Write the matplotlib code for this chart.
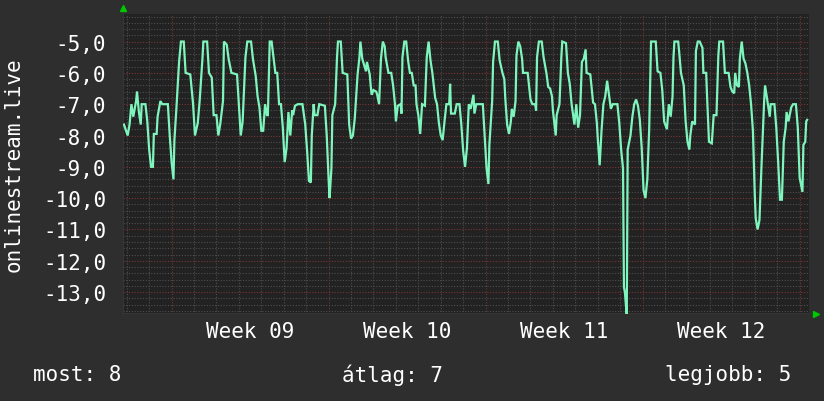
import matplotlib
matplotlib.use("Agg")
import matplotlib.pyplot as plt
import numpy as np

# hours since the left edge of the graph, and the measured value
hours = [1, 5, 7, 9, 11, 14, 15, 17, 19, 20, 24, 26, 28, 30, 32, 33, 36, 37, 40, 42,
         48, 50, 52, 54, 55, 57, 60, 62, 65, 67, 72, 75, 77, 80, 82, 85, 86, 90, 92, 95,
         97, 100, 102, 104, 107, 108, 111, 113, 116, 122, 124, 126, 128, 131, 133, 137, 139, 142, 144, 146,
         148, 150, 152, 154, 155, 157, 159, 161, 163, 165, 167, 169, 171, 173, 175, 177, 179, 181, 182, 184,
         187, 192, 195, 197, 199, 201, 202, 204, 205, 208, 210, 216, 218, 220, 221, 223, 224, 227, 229, 230,
         233, 235, 240, 242, 244, 246, 248, 251, 253, 254, 256, 258, 260, 261, 264, 265, 266, 268, 271, 272,
         274, 276, 278, 280, 281, 284, 287, 289, 291, 292, 294, 297, 298, 299, 301, 303, 305, 307, 309, 311,
         313, 314, 316, 318, 320, 323, 325, 327, 329, 331, 334, 336, 338, 340, 342, 344, 346, 349, 350, 351,
         355, 357, 360, 362, 364, 366, 368, 370, 372, 375, 376, 378, 385, 387, 389, 391, 392, 395, 396, 398,
         401, 403, 406, 408, 409, 411, 413, 415, 416, 418, 420, 421, 423, 425, 427, 428, 433, 436, 438, 441,
         442, 443, 445, 448, 450, 453, 455, 457, 459, 460, 463, 464, 467, 469, 470, 474, 476, 478, 480, 483,
         485, 487, 489, 491, 493, 495, 496, 500, 503, 505, 507, 508, 510, 512, 514, 516, 518, 520, 522, 524,
         529, 531, 533, 535, 536, 537, 539, 540, 543, 545, 547, 549, 551, 553, 555, 557, 559, 561, 563, 565,
         570, 572, 575, 577, 579, 582, 584, 586, 588, 589, 590, 594, 595, 597, 600, 602, 604, 606, 607, 609,
         612, 613, 615, 617, 620, 621, 624, 625, 627, 630, 632, 635, 637, 638, 642, 644, 648, 650, 652, 654,
         655, 657, 659, 660, 662, 664, 666, 668, 670, 672, 674, 676, 677, 679, 681, 683, 685, 686, 687, 690,
         692, 693, 697, 699, 701, 703, 705, 707, 709, 710, 712, 715, 717, 720, 722, 724, 727, 728, 730, 731,
         732]
values = [-7.65, -8.0, -7.65, -7.0, -7.4, -6.9, -6.6, -7.25, -7.65, -7.0, -7.0, -7.55, -8.45, -9.0, -9.0, -7.95, -7.95, -7.4, -6.9, -7.0,
          -7.0, -8.0, -8.85, -9.4, -8.15, -7.2, -5.65, -5.0, -5.0, -6.0, -6.05, -7.0, -8.0, -7.6, -6.9, -5.55, -5.0, -5.0, -6.0, -6.15,
          -7.35, -7.35, -8.0, -7.65, -6.9, -5.0, -5.1, -5.55, -6.0, -6.05, -7.0, -8.0, -7.55, -5.5, -5.0, -5.0, -5.55, -6.1, -6.75, -7.1,
          -7.85, -7.85, -7.0, -7.35, -7.35, -5.0, -5.0, -5.5, -6.0, -6.0, -7.0, -7.0, -7.75, -8.85, -8.4, -7.25, -8.0, -7.2, -7.35, -7.05,
          -7.0, -7.0, -7.65, -8.5, -9.45, -9.5, -8.0, -7.0, -7.35, -7.35, -7.0, -7.05, -8.0, -9.4, -10.0, -9.05, -7.35, -7.0, -5.5, -5.0,
          -5.0, -6.0, -6.05, -7.65, -8.1, -8.0, -7.45, -6.05, -5.5, -5.0, -5.55, -5.75, -5.95, -5.65, -6.05, -6.4, -6.7, -6.55, -6.6, -6.7,
          -7.0, -5.55, -5.0, -5.15, -5.5, -6.0, -6.0, -6.4, -7.0, -7.55, -7.05, -7.0, -7.3, -5.5, -5.0, -5.0, -5.6, -6.0, -6.0, -6.4,
          -6.4, -7.0, -7.35, -7.95, -7.0, -7.05, -5.5, -5.0, -5.6, -6.0, -6.8, -7.0, -7.6, -8.0, -8.15, -7.55, -7.0, -7.0, -6.35, -7.3,
          -7.3, -7.0, -7.0, -7.65, -8.5, -9.0, -8.4, -7.0, -7.15, -6.7, -7.3, -7.0, -7.0, -8.05, -9.05, -9.55, -8.3, -6.9, -5.65, -5.0,
          -5.0, -5.6, -6.0, -6.2, -6.8, -7.65, -7.95, -7.55, -7.15, -7.4, -6.9, -5.45, -5.0, -5.15, -5.55, -6.0, -6.0, -6.85, -7.0, -7.0,
          -7.2, -5.5, -5.0, -5.0, -5.5, -6.0, -6.45, -6.5, -6.75, -7.2, -8.0, -7.35, -7.0, -5.5, -5.0, -5.05, -6.0, -6.35, -7.0, -7.65,
          -7.0, -7.75, -7.35, -5.65, -5.55, -5.25, -6.0, -6.05, -6.95, -7.0, -7.6, -8.1, -8.95, -7.85, -7.0, -6.75, -6.25, -6.7, -7.15, -7.0,
          -7.0, -7.6, -8.45, -9.05, -12.85, -13.0, -13.75, -8.45, -8.0, -7.4, -7.0, -6.85, -7.05, -7.5, -8.4, -9.75, -10.0, -9.4, -7.8, -5.0,
          -5.0, -5.95, -6.0, -6.55, -7.55, -7.8, -7.0, -7.4, -6.75, -5.5, -5.0, -5.0, -5.3, -6.0, -6.4, -7.55, -8.2, -8.45, -8.0, -7.55,
          -7.65, -5.3, -5.0, -5.0, -5.2, -6.0, -6.0, -6.8, -8.2, -8.25, -7.35, -7.35, -5.45, -5.0, -5.0, -6.0, -6.0, -6.45, -6.6, -6.65,
          -6.0, -6.4, -6.45, -5.55, -5.0, -5.55, -5.7, -6.0, -6.4, -7.0, -7.85, -9.9, -10.65, -11.0, -10.7, -9.1, -7.6, -6.9, -6.4, -7.0,
          -7.4, -7.0, -7.0, -7.75, -8.85, -10.05, -10.05, -8.2, -7.75, -7.25, -7.55, -7.1, -7.0, -7.0, -7.75, -9.35, -9.8, -8.3, -8.2, -7.55,
          -7.5]

week_starts = [52, 220, 388, 556, 724]
week_labels = ["Week 09", "Week 10", "Week 11", "Week 12"]
y_ticks = [-13, -12, -11, -10, -9, -8, -7, -6, -5]
legend_items = [("most", 8), ("átlag", 7), ("legjobb", 5)]

BG = "#2e2e2e"
PLOT_BG = "#222222"
LINE = "#7ef5bd"
MINOR = "#4e4e4e"
MAJOR = "#7a3434"
TEXT = "#ffffff"
FONT = "DejaVu Sans Mono"
FS = 15

plt.rcParams["font.family"] = FONT

fig = plt.figure(figsize=(8.24, 4.02), dpi=100, facecolor=BG)
ax = fig.add_axes([123 / 824, 87 / 402, 686 / 824, 300 / 402], facecolor=PLOT_BG)
x_max = 734
y_lo, y_hi = -13.70, -4.12
ax.set_xlim(0, x_max)
ax.set_ylim(y_lo, y_hi)

# grid: minor every 0.2 units / every day, major every unit / every week
dot = (0, (1, 1.5))
for y in np.arange(-13.6, y_hi, 0.2):
    major = abs(y - round(y)) < 1e-6
    ax.axhline(y, color=MAJOR if major else MINOR, lw=0.8, ls=dot, zorder=1)
day_lines = np.arange(week_starts[0] - 48, x_max, 24)
for x in day_lines:
    major = (x - week_starts[0]) % 168 == 0
    ax.axvline(x, color=MAJOR if major else MINOR, lw=0.8, ls=dot, zorder=1)

ax.plot(hours, values, color=LINE, lw=1.6, zorder=3, solid_joinstyle="miter")

ax.set_yticks(y_ticks)
ax.set_yticklabels([f"{v:.1f}".replace(".", ",") for v in y_ticks])
mids = [(a + b) / 2 for a, b in zip(week_starts[:-1], week_starts[1:])]
ax.set_xticks(mids)
ax.set_xticklabels(week_labels)
ax.tick_params(axis="both", length=0, colors=TEXT, labelsize=FS)
ax.tick_params(axis="y", pad=12)
ax.tick_params(axis="x", pad=5)
for s in ax.spines.values():
    s.set_visible(False)
ax.axvline(0, color="#3a3a3a", lw=1.2, zorder=2)
ax.axhline(y_lo, color="#3a3a3a", lw=1.2, zorder=2)

# small green axis arrows
ax.plot([0], [1.02], marker="^", color="#00c800", ms=4, transform=ax.transAxes, clip_on=False)
ax.plot([1.01], [0], marker=">", color="#00c800", ms=4, transform=ax.transAxes, clip_on=False)

fig.text(14 / 824, 0.5 * (402 - 15 + 402 - 315) / 402, "onlinestream.live", rotation=90,
         ha="center", va="center", color=TEXT, fontsize=FS)

ly = (402 - 375) / 402
fig.text(33 / 824, ly, f"{legend_items[0][0]}: {legend_items[0][1]}", ha="left", va="center", color=TEXT, fontsize=FS)
fig.text(392 / 824, ly, f"{legend_items[1][0]}: {legend_items[1][1]}", ha="center", va="center", color=TEXT, fontsize=FS)
fig.text(791 / 824, ly, f"{legend_items[2][0]}: {legend_items[2][1]}", ha="right", va="center", color=TEXT, fontsize=FS)

fig.savefig("out.png", dpi=100, facecolor=BG)
